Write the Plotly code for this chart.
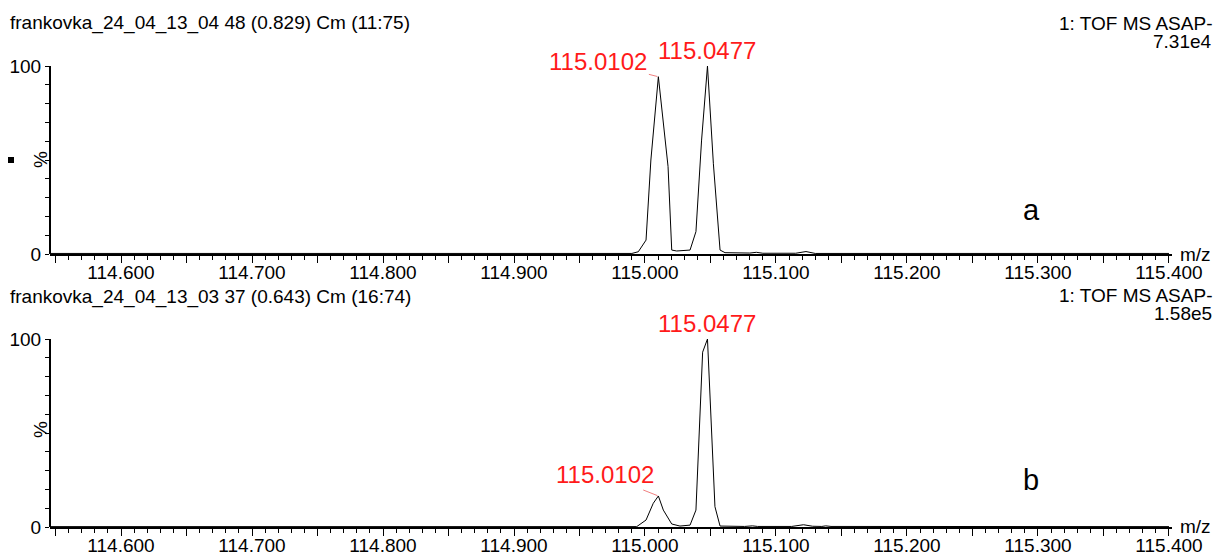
import plotly.graph_objects as go

# ---- spectrum (a): frankovka_24_04_13_04, m/z vs relative intensity (%)
mz_a = [114.5458, 114.9900, 114.9949, 115.0008, 115.0045, 115.0102, 115.0176,
        115.0204, 115.0242, 115.0344, 115.0389, 115.0432, 115.0477, 115.0522,
        115.0573, 115.0611, 115.0800, 115.0850, 115.0900, 115.1150, 115.1229,
        115.1300, 115.4000]
int_a = [0.3, 0.3, 1.2, 7.4, 50.0, 94.3, 46.5,
         2.1, 1.6, 2.1, 11.9, 60.6, 100.0, 48.0,
         2.1, 0.7, 0.5, 0.9, 0.4, 0.4, 1.3,
         0.3, 0.3]

# ---- spectrum (b): frankovka_24_04_13_03
mz_b = [114.5458, 114.9937, 115.0008, 115.0063, 115.0102, 115.0140, 115.0204,
        115.0267, 115.0344, 115.0389, 115.0440, 115.0477, 115.0534, 115.0573,
        115.0760, 115.0820, 115.0860, 115.1120, 115.1210, 115.1280, 115.1350,
        115.1380, 115.1420, 115.4000]
int_b = [0.2, 0.2, 3.7, 12.6, 16.5, 9.0, 1.6,
         0.5, 1.0, 9.0, 93.0, 100.0, 10.8, 0.5,
         0.3, 0.6, 0.3, 0.3, 1.2, 0.4, 0.3,
         0.6, 0.3, 0.2]

# labelled peaks: (m/z, intensity) per spectrum
peaks_a = [(115.0102, 94.3), (115.0477, 100.0)]
peaks_b = [(115.0102, 16.5), (115.0477, 100.0)]

titles = ["frankovka_24_04_13_04 48 (0.829) Cm (11:75)",
          "frankovka_24_04_13_03 37 (0.643) Cm (16:74)"]
scan_info = ["1: TOF MS ASAP-", "1: TOF MS ASAP-"]
base_peak = ["7.31e4", "1.58e5"]
panel_tags = ["a", "b"]

x_tick_vals = [114.55, 114.60, 114.65, 114.70, 114.75, 114.80, 114.85, 114.90,
               114.95, 115.00, 115.05, 115.10, 115.15, 115.20, 115.25, 115.30,
               115.35, 115.40]
x_tick_text = ["", "114.600", "", "114.700", "", "114.800", "", "114.900",
               "", "115.000", "", "115.100", "", "115.200", "", "115.300",
               "", "115.400"]
y_tick_vals = [0, 10, 20, 30, 40, 50, 60, 70, 80, 90, 100]
y_tick_text = ["0", "", "", "", "", "", "", "", "", "", "100"]

W, H = 1216, 554
FONT = "Arial, Liberation Sans, sans-serif"
RED = "#ff1a1a"
TXT = 19


def py(p):
    """pixel row -> paper y"""
    return 1 - p / H


def px(p):
    return p / W


X_RANGE = [114.5458, 115.4023]
Y_RANGE = [0, 103.2]

fig = go.Figure()
fig.add_trace(go.Scatter(x=mz_a, y=int_a, mode="lines", xaxis="x", yaxis="y",
                         line=dict(color="#000000", width=1), hoverinfo="skip"))
fig.add_trace(go.Scatter(x=mz_b, y=int_b, mode="lines", xaxis="x2", yaxis="y2",
                         line=dict(color="#000000", width=1), hoverinfo="skip"))

xaxis_common = dict(
    range=X_RANGE, showgrid=False, zeroline=False, automargin=False,
    showline=True, linecolor="#000000", linewidth=2,
    tickmode="array", tickvals=x_tick_vals, ticktext=x_tick_text,
    ticks="outside", ticklen=7, tickwidth=1, tickcolor="#000000",
    ticklabelstandoff=-7,
    minor=dict(dtick=0.01, tick0=114.55, ticks="outside", ticklen=4,
               tickwidth=1, tickcolor="#000000", showgrid=False),
    tickfont=dict(family=FONT, size=TXT, color="#000000"),
    fixedrange=True,
)
yaxis_common = dict(
    range=Y_RANGE, showgrid=False, zeroline=False, showline=False,
    automargin=False,
    tickmode="array", tickvals=y_tick_vals, ticktext=y_tick_text,
    ticks="outside", ticklen=4, tickwidth=1, tickcolor="#000000",
    tickfont=dict(family=FONT, size=TXT, color="#000000"),
    fixedrange=True,
)

dom_x = [px(50), px(1172)]
fig.update_layout(
    template="none",
    width=W, height=H, autosize=False,
    margin=dict(l=0, r=0, t=0, b=0, pad=0),
    paper_bgcolor="white", plot_bgcolor="white",
    showlegend=False,
    xaxis=dict(domain=dom_x, anchor="y", **xaxis_common),
    yaxis=dict(domain=[py(254), py(60)], anchor="x", **yaxis_common),
    xaxis2=dict(domain=dom_x, anchor="y2", **xaxis_common),
    yaxis2=dict(domain=[py(527), py(333)], anchor="x2", **yaxis_common),
)

shapes = []
annotations = []
panels = [("x", "y", peaks_a, 0), ("x2", "y2", peaks_b, 1)]
title_rows = [(23, 23, 42, 210, 160), (297, 295, 313, 480, 430)]
mz_rows = [254, 526]

for (xr, yr, peaks, i), (trow, srow, brow, tagrow, pctrow), mzrow in zip(panels, title_rows, mz_rows):
    # vertical intensity axis from 0 to 100 %
    shapes.append(dict(type="line", xref=f"{xr} domain", yref=yr,
                       x0=0, x1=0, y0=0, y1=100,
                       line=dict(color="#000000", width=2)))
    annotations += [
        dict(text=titles[i], xref="paper", yref="paper", x=px(8), y=py(trow),
             xanchor="left", yanchor="middle", showarrow=False,
             font=dict(family=FONT, size=TXT, color="#000000")),
        dict(text=scan_info[i], xref="paper", yref="paper", x=px(1214), y=py(srow),
             xanchor="right", yanchor="middle", showarrow=False,
             font=dict(family=FONT, size=TXT, color="#000000")),
        dict(text=base_peak[i], xref="paper", yref="paper", x=px(1214), y=py(brow),
             xanchor="right", yanchor="middle", showarrow=False,
             font=dict(family=FONT, size=TXT, color="#000000")),
        dict(text=panel_tags[i], xref="paper", yref="paper", x=px(1031), y=py(tagrow),
             xanchor="center", yanchor="middle", showarrow=False,
             font=dict(family=FONT, size=29, color="#000000")),
        dict(text="%", xref="paper", yref="paper", x=px(40), y=py(pctrow),
             xanchor="center", yanchor="middle", showarrow=False, textangle=-90,
             font=dict(family=FONT, size=TXT, color="#000000")),
        dict(text="m/z", xref="paper", yref="paper", x=px(1178), y=py(mzrow),
             xanchor="left", yanchor="middle", showarrow=False,
             font=dict(family=FONT, size=TXT, color="#000000")),
    ]
    # peak labels
    (m1, v1), (m2, v2) = peaks
    if i == 0:
        annotations.append(dict(x=m1, y=v1, xref=xr, yref=yr, text=f"{m1:.4f}",
                                showarrow=True, arrowhead=0, arrowwidth=1,
                                arrowcolor="#f08080", ax=-60, ay=-15, standoff=1,
                                font=dict(family=FONT, size=24, color=RED)))
        annotations.append(dict(x=m2, y=v2, xref=xr, yref=yr, text=f"{m2:.4f}",
                                showarrow=False, yshift=16,
                                font=dict(family=FONT, size=24, color=RED)))
    else:
        annotations.append(dict(x=m1, y=v1, xref=xr, yref=yr, text=f"{m1:.4f}",
                                showarrow=True, arrowhead=0, arrowwidth=1,
                                arrowcolor="#f08080", ax=-53, ay=-21, standoff=1,
                                font=dict(family=FONT, size=24, color=RED)))
        annotations.append(dict(x=m2, y=v2, xref=xr, yref=yr, text=f"{m2:.4f}",
                                showarrow=False, yshift=16,
                                font=dict(family=FONT, size=24, color=RED)))

# small black marker square left of the upper % label
shapes.append(dict(type="rect", xref="paper", yref="paper",
                   x0=px(8), x1=px(14), y0=py(163), y1=py(157),
                   fillcolor="#000000", line=dict(width=0)))

fig.update_layout(shapes=shapes, annotations=annotations)
fig.write_html("out.html")
